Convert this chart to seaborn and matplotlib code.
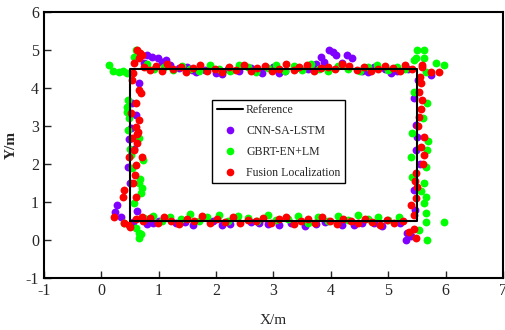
import matplotlib
matplotlib.use("Agg")
import matplotlib.pyplot as plt
import seaborn as sns
import pandas as pd
from matplotlib.lines import Line2D

# Reference path
ref_x = [0.5, 5.5, 5.5, 0.5, 0.5]
ref_y = [0.5, 0.5, 4.5, 4.5, 0.5]

# CNN-SA-LSTM (purple)
cnn_x = [0.75, 0.80, 0.89, 0.98, 1.06, 1.20, 1.35, 1.50, 1.65, 1.80, 2.00, 2.20, 2.40, 2.60, 2.80,
         3.00, 3.20, 3.40, 3.60, 3.75, 3.83, 3.88, 3.97, 4.03, 4.09, 4.29, 4.37, 4.55, 4.75, 4.95,
         5.15, 5.35, 5.75, 1.12, 1.58, 2.10, 2.70, 3.10, 4.20, 4.65, 5.05,
         0.23, 0.28, 0.35, 0.55, 0.80, 1.00, 1.30, 1.60, 1.95, 2.25, 2.60, 2.90, 3.30, 3.55, 3.90,
         4.20, 4.55, 4.90, 5.20, 5.33, 5.31, 5.40, 0.90, 1.45, 2.10, 2.75, 3.10, 3.75, 4.40, 4.75,
         0.66, 0.54, 0.52, 0.46, 0.60, 0.57, 0.50, 0.62, 0.48,
         5.49, 5.45, 5.49, 5.45, 5.52, 5.47, 5.55, 5.50]
cnn_y = [4.66, 4.87, 4.82, 4.79, 4.68, 4.60, 4.52, 4.55, 4.42, 4.48, 4.40, 4.50, 4.45, 4.52, 4.40,
         4.55, 4.45, 4.52, 4.50, 4.62, 4.82, 4.68, 5.00, 4.95, 4.87, 4.87, 4.79, 4.45, 4.55, 4.50,
         4.45, 4.50, 4.34, 4.75, 4.48, 4.38, 4.45, 4.40, 4.65, 4.42, 4.40,
         0.74, 0.92, 0.60, 0.48, 0.42, 0.50, 0.45, 0.40, 0.50, 0.42, 0.48, 0.42, 0.45, 0.38, 0.48,
         0.40, 0.45, 0.38, 0.45, 0.18, 0.00, 0.10, 0.45, 0.48, 0.40, 0.45, 0.40, 0.42, 0.40, 0.45,
         4.13, 3.60, 2.95, 1.92, 3.30, 2.40, 1.50, 0.75, 2.65,
         3.03, 3.74, 2.37, 1.32, 4.20, 0.80, 2.00, 2.70]

# GBRT-EN+LM (green)
gbrt_x = [0.14, 0.20, 0.30, 0.38, 0.45, 0.61, 0.57, 0.80, 0.92, 1.10, 1.25, 1.40, 1.55, 1.70, 1.90,
          2.05, 2.25, 2.40, 2.55, 2.70, 2.90, 3.05, 3.20, 3.35, 3.50, 3.65, 3.80, 3.95, 4.12, 4.30,
          4.50, 4.65, 4.80, 5.00, 5.15, 5.30, 5.50, 5.63, 5.49, 5.63, 5.84, 5.98,
          0.40, 0.65, 0.70, 0.75, 0.90, 1.05, 1.20, 1.38, 1.55, 1.70, 1.85, 2.05, 2.20, 2.38, 2.55,
          2.72, 2.90, 3.05, 3.25, 3.42, 3.60, 3.78, 3.95, 4.12, 4.30, 4.48, 4.65, 4.82, 5.00, 5.19,
          5.54, 5.68, 5.66, 5.98,
          0.46, 0.44, 0.46, 0.66, 0.54, 0.66, 0.71, 0.70, 0.57, 0.60, 0.66, 0.48, 0.50, 0.72,
          0.45, 0.68, 0.52,
          5.45, 5.66, 5.68, 5.42, 5.68, 5.40, 5.66, 5.42, 5.63, 5.66, 5.63, 5.66, 5.60, 5.45,
          5.70, 5.58]
gbrt_y = [4.60, 4.45, 4.42, 4.45, 4.40, 5.00, 4.82, 4.62, 4.50, 4.55, 4.48, 4.58, 4.50, 4.45, 4.60,
          4.50, 4.45, 4.60, 4.55, 4.42, 4.52, 4.60, 4.45, 4.58, 4.48, 4.62, 4.50, 4.45, 4.58, 4.50,
          4.45, 4.55, 4.60, 4.48, 4.55, 4.50, 5.00, 5.00, 4.79, 4.79, 4.66, 4.60,
          0.45, 0.05, 0.15, 0.58, 0.62, 0.50, 0.60, 0.55, 0.68, 0.50, 0.60, 0.65, 0.50, 0.62, 0.58,
          0.50, 0.65, 0.52, 0.55, 0.62, 0.45, 0.60, 0.50, 0.62, 0.52, 0.65, 0.55, 0.60, 0.52, 0.60,
          0.26, 0.00, 0.47, 0.47,
          3.68, 3.37, 2.89, 2.68, 1.89, 1.50, 1.37, 1.24, 0.97, 0.32, 0.18, 3.20, 2.40, 2.10,
          3.50, 1.60, 2.25,
          4.74, 4.42, 3.60, 2.82, 2.37, 2.18, 1.92, 1.66, 1.50, 1.13, 0.97, 0.71, 3.20, 3.90,
          2.60, 1.30]

# Fusion Localization (red)
fus_x = [0.63, 0.68, 0.71, 0.57, 0.75, 0.85, 0.95, 1.05, 1.15, 1.25, 1.38, 1.48, 1.60, 1.72, 1.85,
         1.98, 2.10, 2.22, 2.35, 2.48, 2.60, 2.72, 2.85, 2.98, 3.10, 3.22, 3.35, 3.45, 3.58, 3.70,
         3.82, 3.95, 4.08, 4.20, 4.32, 4.45, 4.58, 4.70, 4.82, 4.95, 5.08, 5.20, 5.30, 5.42, 5.59,
         5.75, 5.89, 0.65,
         0.22, 0.40, 0.50, 0.60, 0.72, 0.85, 0.98, 1.10, 1.22, 1.35, 1.50, 1.62, 1.75, 1.90, 2.02,
         2.15, 2.30, 2.42, 2.55, 2.70, 2.82, 2.95, 3.10, 3.22, 3.35, 3.48, 3.60, 3.72, 3.85, 3.98,
         4.10, 4.22, 4.35, 4.48, 4.60, 4.72, 4.85, 4.98, 5.10, 5.25, 5.37, 5.49, 5.45,
         0.54, 0.66, 0.70, 0.60, 0.66, 0.60, 0.54, 0.63, 0.57, 0.49, 0.71, 0.60, 0.40, 0.37, 0.60,
         0.49, 0.71, 0.55, 0.62, 0.58, 0.52, 0.64, 0.56,
         5.59, 5.57, 5.59, 5.54, 5.63, 5.57, 5.49, 5.50, 5.40, 5.45, 5.55, 5.52, 5.60, 5.48, 5.58,
         5.53, 5.62, 5.47]
fus_y = [5.00, 4.93, 4.87, 4.66, 4.55, 4.47, 4.58, 4.45, 4.62, 4.50, 4.55, 4.42, 4.52, 4.60, 4.45,
         4.50, 4.42, 4.55, 4.48, 4.60, 4.45, 4.52, 4.58, 4.45, 4.50, 4.62, 4.48, 4.55, 4.60, 4.45,
         4.52, 4.55, 4.50, 4.62, 4.58, 4.48, 4.55, 4.45, 4.50, 4.58, 4.52, 4.45, 4.60, 4.50, 4.60,
         4.42, 4.42, 4.80,
         0.60, 0.45, 0.35, 0.55, 0.50, 0.58, 0.45, 0.60, 0.50, 0.42, 0.55, 0.50, 0.62, 0.45, 0.55,
         0.48, 0.60, 0.45, 0.52, 0.50, 0.58, 0.45, 0.55, 0.60, 0.42, 0.50, 0.55, 0.45, 0.60, 0.50,
         0.42, 0.55, 0.50, 0.45, 0.55, 0.48, 0.40, 0.52, 0.45, 0.50, 0.21, 0.05, 0.30,
         4.20, 3.95, 3.87, 3.60, 3.16, 2.98, 2.68, 2.55, 2.37, 2.18, 2.18, 1.97, 1.32, 1.13, 1.13,
         0.39, 0.60, 4.40, 2.80, 1.70, 3.35, 2.85, 1.50,
         4.55, 4.13, 3.68, 3.24, 2.71, 2.45, 1.76, 1.39, 0.92, 0.66, 4.30, 3.00, 2.00, 1.10, 3.45,
         3.90, 2.25, 1.55]

x_ticks = [-1, 0, 1, 2, 3, 4, 5, 6, 7]
y_ticks = [-1, 0, 1, 2, 3, 4, 5, 6]

sns.set_style("white")
plt.rcParams['font.family'] = ['Liberation Serif', 'DejaVu Serif']
plt.rcParams['axes.unicode_minus'] = False

fig = plt.figure(figsize=(5.05, 3.3), dpi=100)
ax = fig.add_axes([0.087, 0.1576, 0.909, 0.806])

ms = 32
sns.scatterplot(x=cnn_x, y=cnn_y, ax=ax, color='#7F00FF', s=ms, linewidth=0, zorder=3)
sns.scatterplot(x=gbrt_x, y=gbrt_y, ax=ax, color='#00FF00', s=ms, linewidth=0, zorder=3)
sns.scatterplot(x=fus_x, y=fus_y, ax=ax, color='#FF0000', s=ms, linewidth=0, zorder=3)
sns.lineplot(x=ref_x, y=ref_y, ax=ax, sort=False, estimator=None, color='black', linewidth=1.5, zorder=4)

ax.set_xlim(-1, 7)
ax.set_ylim(-1, 6)
ax.set_xticks(x_ticks)
ax.set_yticks(y_ticks)
ax.tick_params(direction='in', length=5, width=1, labelsize=11.5, top=False, right=False,
               bottom=True, left=True)
for sp in ax.spines.values():
    sp.set_visible(True)
    sp.set_color('black')
    sp.set_linewidth(1.5)
ax.set_xlabel('X/m', fontsize=11, labelpad=11)
ax.set_ylabel('Y/m', fontsize=11, fontweight='bold', labelpad=6)

handles = [
    Line2D([0], [0], color='black', lw=1.5),
    Line2D([0], [0], marker='o', ls='none', color='#7F00FF', markersize=4.5),
    Line2D([0], [0], marker='o', ls='none', color='#00FF00', markersize=4.5),
    Line2D([0], [0], marker='o', ls='none', color='#FF0000', markersize=4.5),
]
labels = ['Reference', 'CNN-SA-LSTM', 'GBRT-EN+LM', 'Fusion Localization']
leg = ax.legend(handles, labels, loc='upper left', bbox_to_anchor=(0.367, 0.669),
                borderaxespad=0, fontsize=8.5, frameon=True, fancybox=False,
                edgecolor='black', framealpha=1, handlelength=2.2, handletextpad=0.3,
                labelspacing=0.75, borderpad=0.35)
leg.get_frame().set_linewidth(1.0)

fig.savefig('out.png', dpi=100)
